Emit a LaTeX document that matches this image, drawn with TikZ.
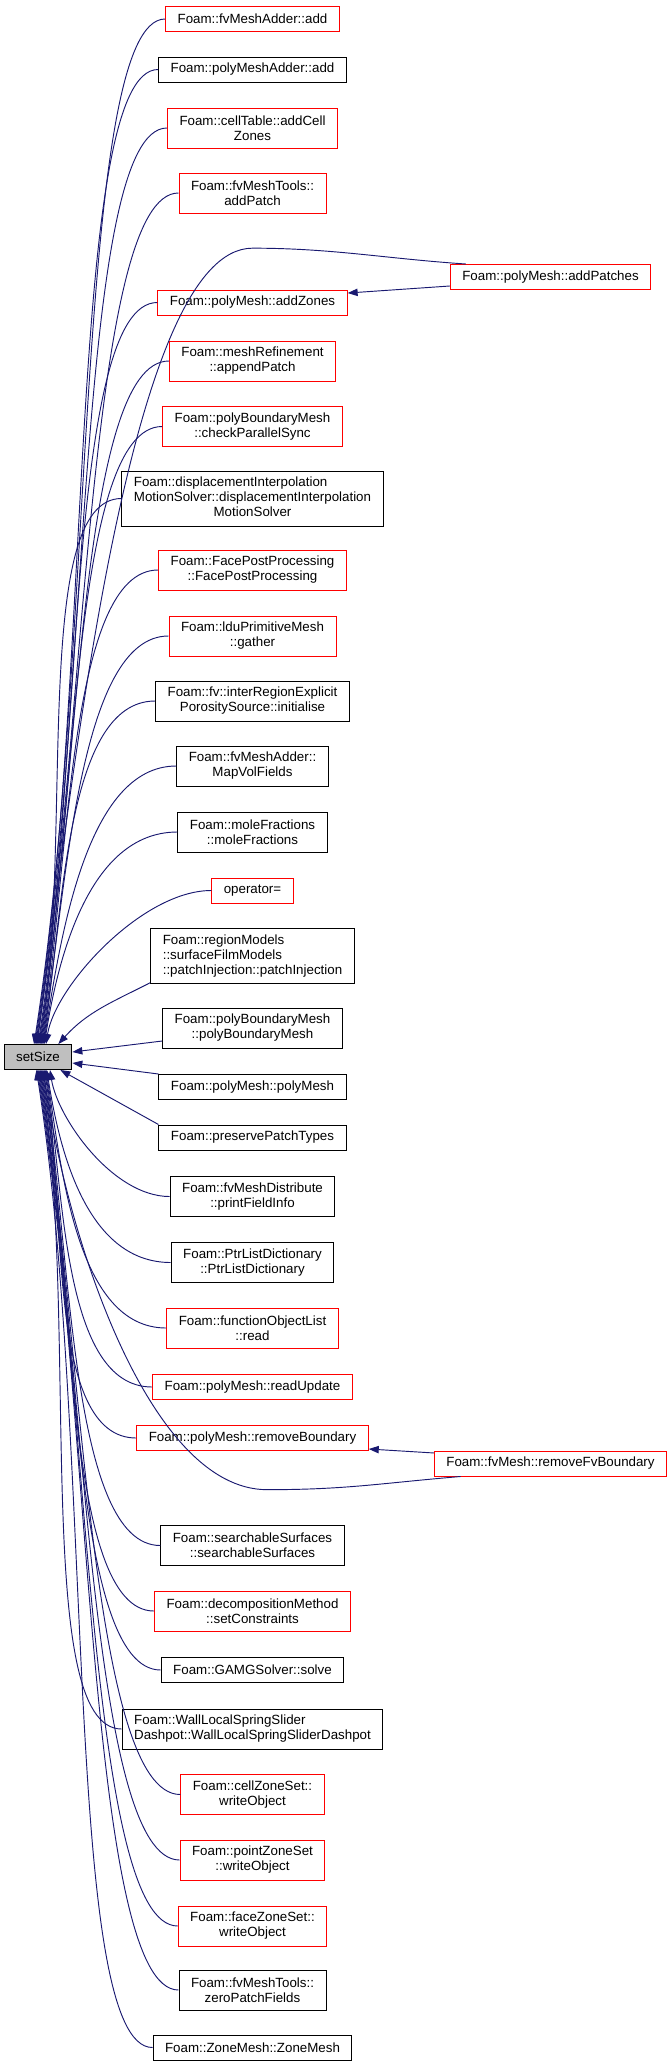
\documentclass[tikz,border=0pt]{standalone}
\usepackage{fontspec}
\setmainfont{Liberation Sans}
\usetikzlibrary{arrows.meta, calc}

\definecolor{edgeblue}{HTML}{191970}
\definecolor{boxred}{HTML}{FF0000}
\definecolor{boxgray}{HTML}{BFBFBF}

\tikzset{
  fnode/.style={draw, line width=0.75pt, font=\fontsize{10pt}{11.25pt}\selectfont,
    inner xsep=9pt, inner ysep=2pt, minimum height=18.75pt},
  redbox/.style={fnode, draw=boxred},
  blackbox/.style={fnode, draw=black},
  two/.style={align=center, minimum height=30pt},
  three/.style={minimum height=41.25pt},
  calledge/.style={draw=edgeblue, line width=0.7pt,
    arrows={Triangle[length=7.5pt,width=5.5pt]-}}
}

% curved call edge: #1 point on setSize, #2 calling node
\newcommand{\callerlink}[2]{%
  \draw[calledge] let \p1=(#1), \p2=(#2.west) in (\p1)
    .. controls +({0.06*abs((\y2)-(\y1))},{0.38*((\y2)-(\y1))})
    and +({-min(67.5pt,0.45*abs((\y2)-(\y1)))},0pt) .. (\p2);
}

\begin{document}
\begin{tikzpicture}[x=0.75pt, y=-0.75pt]
  \useasboundingbox (0,0) rectangle (671,2067);

  % the called function
  \node[fnode, fill=boxgray] (setSize) at (38,1057) {setSize};

  % callers above
  \node[redbox] (add1) at (252.5,19) {Foam::fvMeshAdder::add};
  \node[blackbox] (add2) at (252.5,69.5) {Foam::polyMeshAdder::add};
  \node[redbox, two] (cellzones) at (252.5,128) {Foam::cellTable::addCell\\Zones};
  \node[redbox, two] (addpatch) at (252.5,193) {Foam::fvMeshTools::\\addPatch};
  \node[redbox] (addpatches) at (550.5,277) {Foam::polyMesh::addPatches};
  \node[redbox] (addzones) at (252.5,302.5) {Foam::polyMesh::addZones};
  \node[redbox, two] (appendpatch) at (252.5,361) {Foam::meshRefinement\\::appendPatch};
  \node[redbox, two] (checksync) at (252.5,426.5) {Foam::polyBoundaryMesh\\::checkParallelSync};
  \node[blackbox, three] (dispsolver) at (252.5,498.5) {\begin{tabular}{@{}l@{}}
    Foam::displacementInterpolation\\
    MotionSolver::displacementInterpolation\\
    \multicolumn{1}{@{}c@{}}{MotionSolver}\end{tabular}};
  \node[redbox, two] (facepost) at (252.5,570) {Foam::FacePostProcessing\\::FacePostProcessing};
  \node[redbox, two] (gather) at (252.5,636) {Foam::lduPrimitiveMesh\\::gather};
  \node[blackbox, two] (initialise) at (252.5,701) {Foam::fv::interRegionExplicit\\PorositySource::initialise};
  \node[blackbox, two] (mapvol) at (252.5,766) {Foam::fvMeshAdder::\\MapVolFields};
  \node[blackbox, two] (molefrac) at (252.5,832) {Foam::moleFractions\\::moleFractions};
  \node[redbox] (opassign) at (252.5,890.5) {operator=};
  \node[blackbox, three, align=left] (pinject) at (252.5,956) {Foam::regionModels\\::surfaceFilmModels\\::patchInjection::patchInjection};
  \node[blackbox, two] (pbmesh) at (252.5,1028) {Foam::polyBoundaryMesh\\::polyBoundaryMesh};

  % callers below
  \node[blackbox] (pmesh) at (252.5,1087) {Foam::polyMesh::polyMesh};
  \node[blackbox] (preserve) at (252.5,1137.5) {Foam::preservePatchTypes};
  \node[blackbox, two] (printinfo) at (252.5,1196.5) {Foam::fvMeshDistribute\\::printFieldInfo};
  \node[blackbox, two] (ptrlist) at (252.5,1262.5) {Foam::PtrListDictionary\\::PtrListDictionary};
  \node[redbox, two] (folread) at (252.5,1328) {Foam::functionObjectList\\::read};
  \node[redbox] (readupdate) at (252.5,1387) {Foam::polyMesh::readUpdate};
  \node[redbox] (removebnd) at (252.5,1438) {Foam::polyMesh::removeBoundary};
  \node[redbox] (removefv) at (550.5,1463.5) {Foam::fvMesh::removeFvBoundary};
  \node[blackbox, two] (searchsurf) at (252.5,1545.5) {Foam::searchableSurfaces\\::searchableSurfaces};
  \node[redbox, two] (setconstr) at (252.5,1611) {Foam::decompositionMethod\\::setConstraints};
  \node[blackbox] (gamgsolve) at (252.5,1670) {Foam::GAMGSolver::solve};
  \node[blackbox, two, align=left] (wallspring) at (252.5,1729) {Foam::WallLocalSpringSlider\\Dashpot::WallLocalSpringSliderDashpot};
  \node[redbox, two] (cellzoneset) at (252.5,1794.5) {Foam::cellZoneSet::\\writeObject};
  \node[redbox, two] (pointzoneset) at (252.5,1860) {Foam::pointZoneSet\\::writeObject};
  \node[redbox, two] (facezoneset) at (252.5,1926) {Foam::faceZoneSet::\\writeObject};
  \node[blackbox, two] (zeropatch) at (252.5,1990) {Foam::fvMeshTools::\\zeroPatchFields};
  \node[blackbox] (zonemesh) at (252.5,2047.5) {Foam::ZoneMesh::ZoneMesh};

  % edges into the top of setSize
  \foreach \c/\s in {add1/-3pt, add2/-2.4pt, cellzones/-1.8pt, addpatch/-1.2pt,
      addzones/0pt, appendpatch/0.6pt, checksync/1.2pt, dispsolver/1.8pt,
      facepost/2.4pt, gather/3pt, initialise/3.6pt, mapvol/4.2pt,
      molefrac/4.8pt, opassign/6pt}
    {\callerlink{[xshift=\s]setSize.north}{\c}}

  % edges into the bottom of setSize
  \foreach \c/\s in {printinfo/9pt, ptrlist/6.6pt, folread/6pt, readupdate/5.4pt,
      removebnd/4.8pt, searchsurf/3.6pt, setconstr/3pt, gamgsolve/2.4pt,
      wallspring/1.8pt, cellzoneset/1.2pt, pointzoneset/0.6pt, facezoneset/0pt,
      zeropatch/-0.6pt, zonemesh/-1.2pt}
    {\callerlink{[xshift=\s]setSize.south}{\c}}

  % the near ones
  \draw[calledge] ([xshift=-10.5pt]setSize.north east) to[out=48, in=207] ([yshift=1pt]pinject.south west);
  \draw[calledge] ([yshift=3.75pt]setSize.east) -- ([yshift=-9.75pt]pbmesh.west);
  \draw[calledge] ([yshift=-4.5pt]setSize.east) -- (pmesh.north west);
  \draw[calledge] ([xshift=-9pt]setSize.south east) -- (preserve.north west);

  % second level callers
  \draw[calledge] ([yshift=7.1pt]addzones.east) -- ([yshift=-6.75pt]addpatches.west);
  \draw[calledge] ([xshift=-0.6pt]setSize.north) .. controls +(30pt,230pt) and +(-90pt,0pt)
    .. ([yshift=31pt]addzones.north) .. controls +(60pt,0pt) and +(-60pt,4pt)
    .. ([xshift=12pt]addpatches.north west);
  \draw[calledge] ([yshift=-8.25pt]removebnd.east) -- ([yshift=7.9pt]removefv.west);
  \draw[calledge] ([xshift=4.2pt]setSize.south) .. controls +(16pt,-120pt) and +(-90pt,0pt)
    .. ([xshift=11pt,yshift=-29pt]removebnd.south) .. controls +(60pt,0pt) and +(-60pt,-5pt)
    .. ([xshift=20pt]removefv.south west);
\end{tikzpicture}
\end{document}
